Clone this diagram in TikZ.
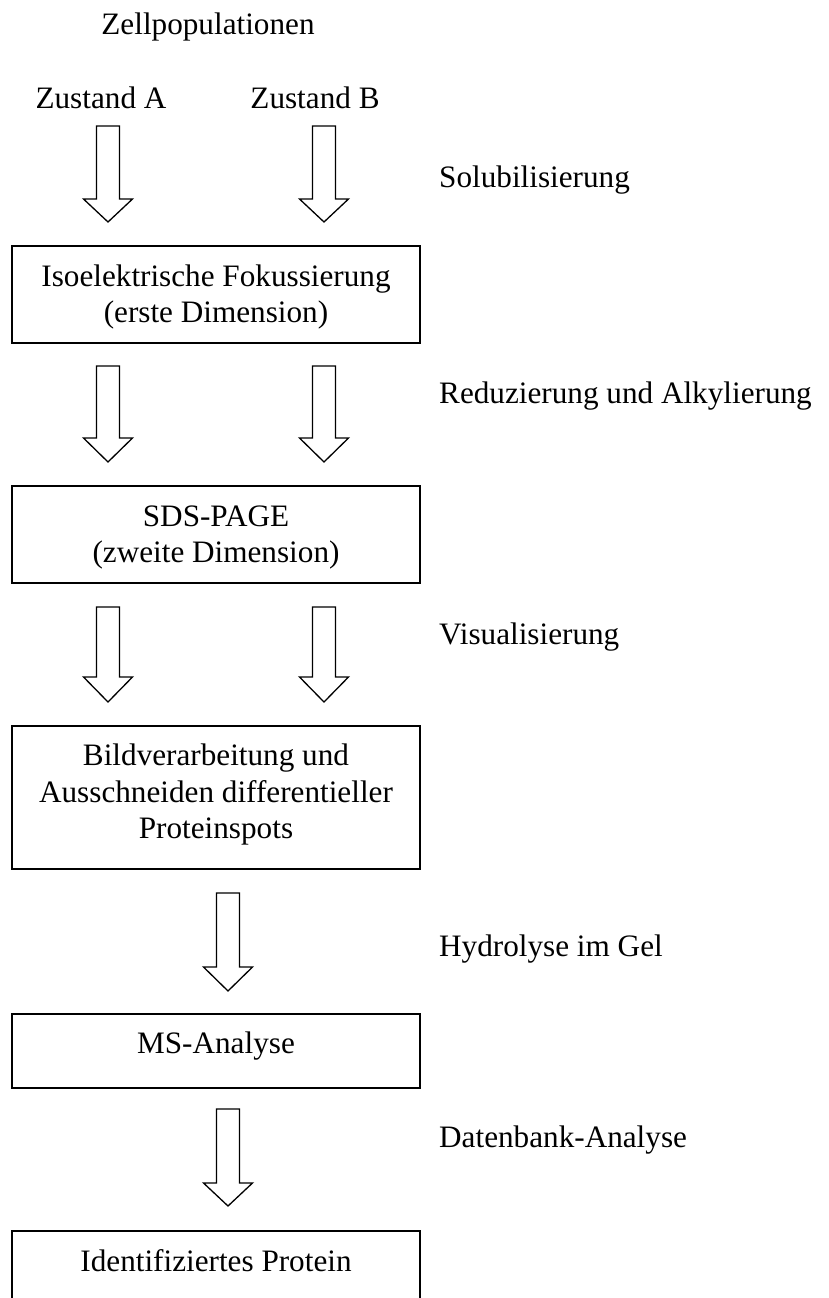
\documentclass[tikz,border=0pt]{standalone}
\usepackage{fontspec}
\setmainfont{Liberation Serif}
\tikzset{
  txt/.style={inner sep=0pt, font=\fontsize{31.2}{36.5}\selectfont},
  lbl/.style={txt, anchor=base west},
  ctr/.style={txt, anchor=base},
  boxnode/.style={draw, line width=1.6pt, minimum width=408pt, inner sep=0pt},
  blockarrow/.style={draw, line width=1.3pt, fill=white, line join=miter},
}
\newcommand{\barrow}[4]{% x, top, head start, tip
  \draw[blockarrow] ({#1-11.5},#2) -- ({#1+11.5},#2) -- ({#1+11.5},#3) -- ({#1+24.5},#3)
    -- (#1,#4) -- ({#1-24.5},#3) -- ({#1-11.5},#3) -- cycle;}
\begin{document}
\begin{tikzpicture}[x=1pt,y=-1pt]
\useasboundingbox (0,0) rectangle (829,1298);
\clip (0,0) rectangle (829,1298);
% top texts
\node[ctr] (zell) at (208,35) {Zellpopulationen};
\node[ctr] (za) at (101,108) {Zustand A};
\node[ctr] (zb) at (315,108) {Zustand B};
% boxes
\node[boxnode, minimum height=97pt] (b1) at (216,294.5) {};
\node[boxnode, minimum height=97pt] (b2) at (216,534.5) {};
\node[boxnode, minimum height=143pt] (b3) at (216,797.5) {};
\node[boxnode, minimum height=74pt] (b4) at (216,1051) {};
\node[boxnode, minimum height=74pt] (b5) at (216,1268) {};
% box texts
\node[ctr] (t1a) at (216,286) {Isoelektrische Fokussierung};
\node[ctr] (t1b) at (216,322) {(erste Dimension)};
\node[ctr] (t2a) at (216,526) {SDS-PAGE};
\node[ctr] (t2b) at (216,562) {(zweite Dimension)};
\node[ctr] (t3a) at (216,765) {Bildverarbeitung und};
\node[ctr] (t3b) at (216,802) {Ausschneiden differentieller};
\node[ctr] (t3c) at (216,838) {Proteinspots};
\node[ctr] (t4) at (216,1053) {MS-Analyse};
\node[ctr] (t5) at (216,1271) {Identifiziertes Protein};
% arrows
\barrow{108}{126}{199}{222}
\barrow{324}{126}{199}{222}
\barrow{108}{366}{438}{462}
\barrow{324}{366}{438}{462}
\barrow{108}{607}{677}{702}
\barrow{324}{607}{677}{702}
\barrow{228}{893}{967}{991}
\barrow{228}{1109}{1183}{1206}
% step labels
\node[lbl] (l1) at (439,187) {Solubilisierung};
\node[lbl] (l2) at (439,403) {Reduzierung und Alkylierung};
\node[lbl] (l3) at (439,644) {Visualisierung};
\node[lbl] (l4) at (439,956) {Hydrolyse im Gel};
\node[lbl] (l5) at (439,1147) {Datenbank-Analyse};
\end{tikzpicture}
\end{document}
